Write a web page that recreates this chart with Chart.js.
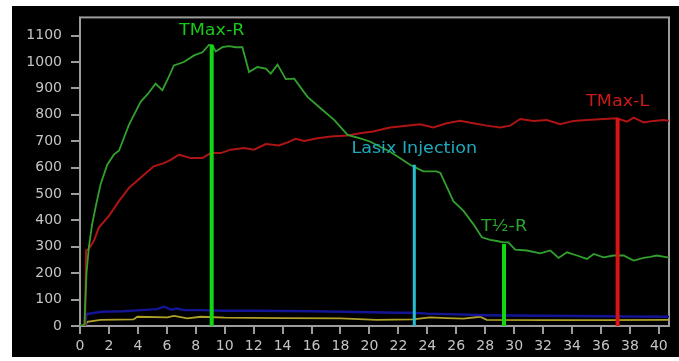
<!DOCTYPE html>
<html>
<head>
<meta charset="utf-8">
<script src="https://cdn.jsdelivr.net/npm/chart.js@4/dist/chart.umd.min.js"></script>
<style>
  html, body { margin: 0; padding: 0; background: #ffffff; }
  canvas { display: block; }
</style>
</head>
<body>
<canvas id="renogram" width="679" height="361"></canvas>
<script>
// Renogram time-activity curves (minutes vs counts)
const rightTime   = [0, 0.3, 0.45, 0.61, 0.84, 1.12, 1.42, 1.88, 2.34, 2.7, 3.38, 4.19, 4.7, 5.22, 5.69, 6.1, 6.49, 7.18, 7.88, 8.46, 8.91, 9.15, 9.38, 9.84, 10.3, 10.76, 11.22, 11.68, 12.26, 12.84, 13.18, 13.65, 14.22, 14.8, 15.72, 16.64, 17.56, 18.49, 19.3, 20.03, 20.7, 21.4, 22.1, 22.8, 23.2, 23.72, 24.65, 24.9, 25.8, 26.5, 27.18, 27.77, 28.34, 28.8, 29.26, 29.6, 30.07, 30.88, 31.8, 32.5, 33.07, 33.65, 34.34, 35.03, 35.5, 36.18, 36.87, 37.56, 38.25, 38.95, 39.4, 39.87, 40.3, 40.8];
const rightCounts = [0, 5, 200, 298, 386, 461, 536, 611, 649, 665, 762, 849, 880, 918, 893, 940, 987, 1000, 1025, 1037, 1065, 1063, 1040, 1056, 1060, 1056, 1056, 962, 981, 975, 956, 990, 935, 937, 868, 824, 781, 724, 712, 699, 680, 661, 636, 611, 600, 586, 586, 580, 473, 436, 386, 336, 326, 322, 317, 317, 289, 286, 275, 286, 258, 279, 267, 254, 273, 260, 267, 267, 248, 258, 262, 267, 263, 258];

const leftTime   = [0, 0.35, 0.42, 0.61, 0.96, 1.3, 2.0, 2.69, 3.38, 4.3, 5.1, 5.8, 6.3, 6.84, 7.65, 8.46, 9.03, 9.72, 10.42, 11.33, 12.03, 12.84, 13.76, 14.22, 14.91, 15.49, 16.41, 17.34, 18.49, 19.34, 20.26, 21.42, 22.57, 23.5, 24.42, 25.34, 26.26, 27.18, 28.1, 29.03, 29.72, 30.42, 31.34, 32.26, 33.18, 34.1, 35.03, 36.18, 37.1, 37.8, 38.26, 38.95, 39.64, 40.3, 40.8];
const leftCounts = [0, 0, 286, 292, 323, 373, 417, 473, 523, 567, 605, 617, 630, 649, 636, 636, 655, 655, 668, 674, 668, 689, 684, 693, 709, 701, 711, 718, 722, 730, 737, 752, 759, 764, 752, 768, 777, 768, 759, 752, 759, 784, 777, 780, 764, 777, 780, 784, 787, 774, 789, 771, 777, 780, 777];

const bladderTime   = [0, 0.35, 0.45, 1.5, 3.0, 4.2, 5.3, 5.8, 6.3, 6.7, 7.2, 8.3, 10, 12, 14, 16, 18, 20, 22, 23, 24, 26, 28.1, 30, 32, 34.1, 36, 38, 40.8];
const bladderCounts = [0, 0, 45, 54, 56, 60, 64, 73, 62, 66, 60, 60, 58, 58, 57, 56, 54, 52, 50, 50, 47, 44, 41, 40, 39, 38, 37, 36, 35];

const backgroundTime   = [0, 0.35, 0.5, 1.42, 3.7, 3.96, 6.03, 6.5, 7.42, 8.34, 10, 14, 18, 20.5, 23, 24.2, 25.34, 26.5, 27.65, 28.1, 32, 36, 40.8];
const backgroundCounts = [0, 0, 16, 23, 25, 35, 33, 38, 29, 35, 32, 30, 29, 23, 25, 33, 30, 28, 35, 23, 22, 22, 23];

// Event markers: label, time, marker height, label level
const markerLabels = ['TMax-R', 'Lasix Injection', 'T\u00BD-R', 'TMax-L'];
const markerTimes  = [9.1, 23.1, 29.3, 37.15];
const markerTops   = [1065, 611, 311, 787];
const labelLevels  = [1118, 671, 373, 849];

const xTicks = [0, 2, 4, 6, 8, 10, 12, 14, 16, 18, 20, 22, 24, 26, 28, 30, 32, 34, 36, 38, 40];
const yTicks = [0, 100, 200, 300, 400, 500, 600, 700, 800, 900, 1000, 1100];

const markerColors = ['rgb(20,215,20)', 'rgb(40,190,210)', 'rgb(20,215,20)', 'rgb(215,20,20)'];
const labelColors  = ['rgb(25,200,25)', 'rgb(30,170,190)', 'rgb(45,165,45)', 'rgb(205,25,25)'];

const pts = (t, v) => t.map((x, i) => ({ x: x, y: v[i] }));

Chart.defaults.font.family = "'DejaVu Sans', sans-serif";

const markerSets = markerTimes.map((t, i) => ({
  data: [{ x: t, y: 0 }, { x: t, y: markerTops[i] }],
  borderColor: markerColors[i],
  borderWidth: i === 1 ? 3 : 4,
  pointRadius: 0
}));

const curveSets = [
  { data: pts(rightTime, rightCounts), borderColor: 'rgb(50,160,45)', borderWidth: 1.8, pointRadius: 0 },
  { data: pts(leftTime, leftCounts), borderColor: 'rgb(175,20,20)', borderWidth: 2, pointRadius: 0 },
  { data: pts(bladderTime, bladderCounts), borderColor: 'rgb(20,20,150)', borderWidth: 2.4, pointRadius: 0 },
  { data: pts(backgroundTime, backgroundCounts), borderColor: 'rgb(175,160,40)', borderWidth: 1.8, pointRadius: 0 }
];

const frame = {
  id: 'frame',
  beforeDraw(chart) {
    const c = chart.ctx;
    c.save();
    c.fillStyle = '#ffffff';
    c.fillRect(0, 0, chart.width, chart.height);
    c.fillStyle = '#000000';
    c.fillRect(12, 6, chart.width - 12, 351);
    c.restore();
  },
  beforeDatasetsDraw(chart) {
    const a = chart.chartArea, c = chart.ctx;
    c.save();
    c.strokeStyle = '#9c9c9c';
    c.lineWidth = 2;
    c.strokeRect(a.left, a.top, a.right - a.left, a.bottom - a.top);
    c.restore();
  },
  afterDatasetsDraw(chart) {
    const c = chart.ctx, xs = chart.scales.x, ys = chart.scales.y;
    c.save();
    c.font = "15px 'DejaVu Sans', sans-serif";
    c.textAlign = 'center';
    c.textBaseline = 'middle';
    markerLabels.forEach((txt, i) => {
      const px = xs.getPixelForValue(markerTimes[i]);
      const py = ys.getPixelForValue(labelLevels[i]);
      c.save();
      c.translate(px, py);
      c.scale(1.17, 1);
      c.fillStyle = labelColors[i];
      c.fillText(txt, 0, 0);
      c.restore();
    });
    c.restore();
  }
};

new Chart(document.getElementById('renogram'), {
  type: 'line',
  data: { datasets: markerSets.concat(curveSets) },
  options: {
    responsive: false,
    devicePixelRatio: 1,
    animation: false,
    events: [],
    layout: { autoPadding: false, padding: { left: 12, top: 15, right: 10, bottom: 5 } },
    plugins: { legend: { display: false }, tooltip: { enabled: false } },
    elements: { line: { tension: 0 } },
    scales: {
      x: {
        type: 'linear',
        min: 0,
        max: 40.7,
        afterBuildTicks(s) { s.ticks = xTicks.map(v => ({ value: v })); },
        afterFit(s) { s.height = 30; },
        border: { display: false },
        grid: { drawOnChartArea: false, drawTicks: true, tickLength: 8, color: '#9c9c9c', lineWidth: 2 },
        ticks: { color: '#c4c4c4', font: { size: 14 }, padding: 4, maxRotation: 0, autoSkip: false, callback: v => String(v) }
      },
      y: {
        type: 'linear',
        min: 0,
        max: 1169,
        afterBuildTicks(s) { s.ticks = yTicks.map(v => ({ value: v })); },
        afterFit(s) { s.width = 68; },
        border: { display: false },
        grid: { drawOnChartArea: false, drawTicks: true, tickLength: 9, color: '#9c9c9c', lineWidth: 2 },
        ticks: { color: '#c4c4c4', font: { size: 14 }, padding: 9, autoSkip: false, callback: v => String(v) }
      }
    }
  },
  plugins: [frame]
});
</script>
</body>
</html>
